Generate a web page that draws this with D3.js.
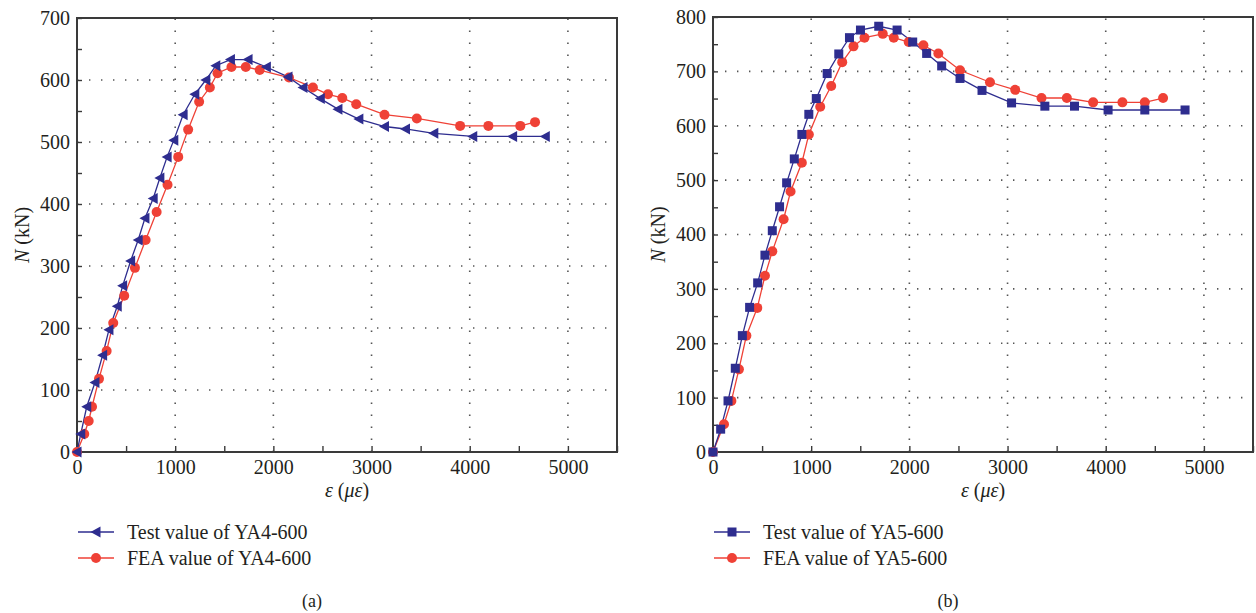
<!DOCTYPE html>
<html>
<head>
<meta charset="utf-8">
<script src="https://cdn.jsdelivr.net/npm/d3@7"></script>
<style>
  html, body { margin: 0; padding: 0; background: #fff; }
  svg { display: block; }
  text { font-family: "Liberation Serif", "DejaVu Serif", serif; fill: #231f20; }
</style>
</head>
<body>
<svg id="chart" width="1256" height="613"></svg>
<script>
// ---------- Data (panel a: YA4-600) ----------
const testA_strain = [0, 38, 99, 183, 261, 325, 410, 465, 546, 623, 692, 776, 844, 918, 986, 1081, 1200, 1312, 1414, 1563, 1742, 1929, 2149, 2302, 2478, 2658, 2871, 3132, 3346, 3634, 4031, 4437, 4770];
const testA_load   = [0, 29, 73, 112, 156, 197, 235, 268, 308, 342, 377, 409, 442, 476, 503, 544, 577, 600, 623, 633, 633, 621, 605, 588, 570, 553, 537, 525, 521, 514, 509, 509, 509];
const feaA_strain  = [0, 74, 119, 153, 224, 302, 369, 481, 590, 699, 811, 922, 1031, 1132, 1244, 1353, 1431, 1573, 1719, 1861, 2159, 2403, 2556, 2702, 2844, 3132, 3461, 3902, 4190, 4515, 4665];
const feaA_load    = [0, 29, 50, 73, 118, 163, 208, 252, 297, 342, 387, 431, 476, 520, 565, 588, 611, 621, 621, 616, 604, 588, 577, 571, 561, 544, 538, 526, 526, 526, 532];

// ---------- Data (panel b: YA5-600) ----------
const testB_strain = [0, 78, 153, 227, 299, 373, 455, 529, 604, 678, 750, 828, 905, 976, 1052, 1163, 1281, 1390, 1502, 1688, 1875, 2034, 2176, 2329, 2516, 2740, 3041, 3380, 3682, 4024, 4398, 4808];
const testB_load   = [0, 42, 94, 154, 214, 266, 311, 362, 407, 451, 495, 539, 584, 621, 650, 696, 732, 762, 776, 783, 776, 754, 733, 710, 687, 665, 642, 636, 636, 629, 629, 629];
const feaB_strain  = [0, 112, 187, 264, 340, 451, 529, 604, 719, 790, 905, 976, 1092, 1204, 1316, 1431, 1543, 1729, 1841, 1993, 2143, 2295, 2516, 2821, 3078, 3346, 3604, 3872, 4170, 4398, 4584];
const feaB_load    = [0, 51, 94, 152, 214, 265, 324, 369, 428, 479, 532, 584, 635, 673, 717, 746, 762, 769, 762, 754, 748, 733, 702, 680, 666, 651, 651, 643, 643, 643, 651];

// ---------- Tick / label text ----------
const xTicks = [0, 1000, 2000, 3000, 4000, 5000];
const yTicksA = [0, 100, 200, 300, 400, 500, 600, 700];
const yTicksB = [0, 100, 200, 300, 400, 500, 600, 700, 800];
const legendA = ["Test value of YA4-600", "FEA value of YA4-600"];
const legendB = ["Test value of YA5-600", "FEA value of YA5-600"];
const captions = ["(a)", "(b)"];

const BLUE = "#2e2d8f";
const RED = "#ef4136";
const AXIS = "#3a3a3a";
const FS = 20;

const svg = d3.select("#chart");

function zip(xs, ys) { return xs.map((x, i) => ({ x, y: ys[i] })); }

function marker(g, type, x, y, color) {
  if (type === "tri") {
    g.append("path")
      .attr("d", `M${x - 5.5},${y} L${x + 4.5},${y - 5.5} L${x + 4.5},${y + 5.5} Z`)
      .attr("fill", color);
  } else if (type === "sq") {
    g.append("rect").attr("x", x - 4.5).attr("y", y - 4.5)
      .attr("width", 9).attr("height", 9).attr("fill", color);
  } else {
    g.append("circle").attr("cx", x).attr("cy", y).attr("r", 5).attr("fill", color);
  }
}

function panel(cfg) {
  const { left, right, top, bottom, xMax, yMax, yTicks, test, fea, testMarker, legend, caption } = cfg;
  const x = d3.scaleLinear().domain([0, xMax]).range([left, right]);
  const y = d3.scaleLinear().domain([0, yMax]).range([bottom, top]);
  const g = svg.append("g");

  // dotted grid
  const grid = g.append("g").attr("stroke", "#555").attr("stroke-width", 1.6)
    .attr("stroke-dasharray", "1.4,10.6").attr("stroke-linecap", "butt");
  xTicks.filter(t => t > 0).forEach(t => {
    grid.append("line").attr("x1", x(t)).attr("x2", x(t)).attr("y1", bottom).attr("y2", top);
  });
  yTicks.filter(t => t > 0 && t < yMax).forEach(t => {
    grid.append("line").attr("x1", left).attr("x2", right).attr("y1", y(t)).attr("y2", y(t));
  });

  // axes via d3 (ticks pointing inward)
  const xMinor = d3.range(0, xMax + 1, 500);
  const yMinor = d3.range(0, yMax + 1, 50);
  const xAxis = g.append("g").attr("transform", `translate(0,${bottom})`)
    .call(d3.axisBottom(x).tickValues(xMinor).tickSize(-6).tickFormat(d => xTicks.includes(d) ? d : "").tickPadding(8));
  const yAxis = g.append("g").attr("transform", `translate(${left},0)`)
    .call(d3.axisLeft(y).tickValues(yMinor).tickSize(-5).tickFormat(d => yTicks.includes(d) ? d : "").tickPadding(7));
  [xAxis, yAxis].forEach(a => {
    a.select(".domain").remove();
    a.selectAll(".tick line").attr("stroke", AXIS).attr("stroke-width", 1.4);
    a.selectAll(".tick text").attr("font-size", FS).attr("fill", "#231f20")
      .style("font-family", '"Liberation Serif", serif');
  });

  // frame
  g.append("rect").attr("x", left).attr("y", top).attr("width", right - left).attr("height", bottom - top)
    .attr("fill", "none").attr("stroke", AXIS).attr("stroke-width", 2);

  // series
  const line = d3.line().x(d => x(d.x)).y(d => y(d.y));
  const series = [
    { data: fea, color: RED, m: "circ" },
    { data: test, color: BLUE, m: testMarker }
  ];
  series.forEach(s => {
    g.append("path").datum(s.data).attr("d", line).attr("fill", "none")
      .attr("stroke", s.color).attr("stroke-width", 1.3);
  });
  series.forEach(s => {
    const mg = g.append("g");
    s.data.forEach(d => marker(mg, s.m, x(d.x), y(d.y), s.color));
  });

  // axis titles
  const yt = g.append("text").attr("transform", `translate(${left - 48},${(top + bottom) / 2}) rotate(-90)`)
    .attr("text-anchor", "middle").attr("font-size", FS);
  yt.append("tspan").attr("font-style", "italic").text("N");
  yt.append("tspan").text(" (kN)");
  const xt = g.append("text").attr("x", (left + right) / 2).attr("y", bottom + 45)
    .attr("text-anchor", "middle").attr("font-size", FS);
  xt.append("tspan").attr("font-style", "italic").text("ε");
  xt.append("tspan").text(" (");
  xt.append("tspan").attr("font-style", "italic").text("με");
  xt.append("tspan").text(")");

  // legend
  const lg = g.append("g");
  const items = [{ c: BLUE, m: testMarker, t: legend[0] }, { c: RED, m: "circ", t: legend[1] }];
  items.forEach((it, i) => {
    const ly = 532 + i * 26;
    lg.append("line").attr("x1", left + 1).attr("x2", left + 37).attr("y1", ly).attr("y2", ly)
      .attr("stroke", it.c).attr("stroke-width", 1.3);
    marker(lg, it.m, left + 19, ly, it.c);
    lg.append("text").attr("x", left + 50).attr("y", ly).attr("dy", "0.35em")
      .attr("font-size", FS).text(it.t);
  });

  // caption
  g.append("text").attr("x", (left + right) / 2 - 35).attr("y", 601).attr("dy", "0.35em")
    .attr("text-anchor", "middle").attr("font-size", 18).text(caption);
}

panel({
  left: 77, right: 617, top: 18, bottom: 452, xMax: 5500, yMax: 700, yTicks: yTicksA,
  test: zip(testA_strain, testA_load), fea: zip(feaA_strain, feaA_load),
  testMarker: "tri", legend: legendA, caption: captions[0]
});
panel({
  left: 713, right: 1253, top: 17, bottom: 452, xMax: 5500, yMax: 800, yTicks: yTicksB,
  test: zip(testB_strain, testB_load), fea: zip(feaB_strain, feaB_load),
  testMarker: "sq", legend: legendB, caption: captions[1]
});
</script>
</body>
</html>
